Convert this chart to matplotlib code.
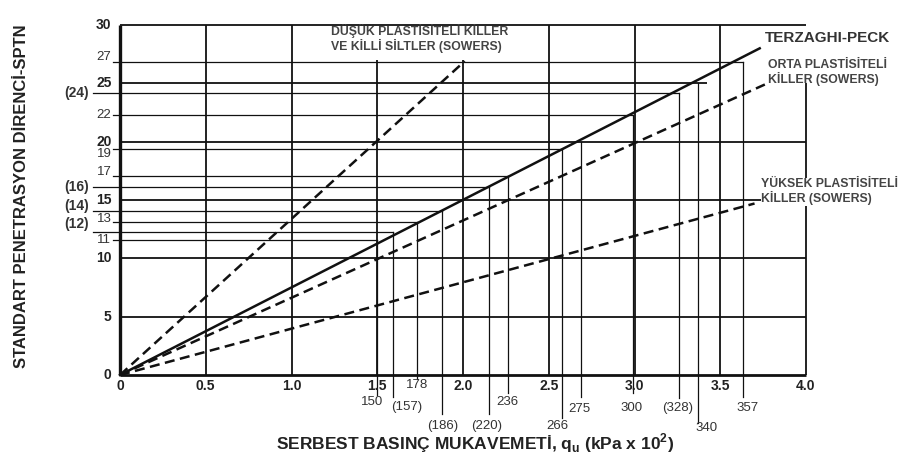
import matplotlib
matplotlib.use('Agg')
import matplotlib.pyplot as plt

plt.rcParams['font.family'] = ['Liberation Sans', 'DejaVu Sans']
plt.rcParams['mathtext.fontset'] = 'custom'
plt.rcParams['mathtext.rm'] = 'Liberation Sans:bold'
plt.rcParams['mathtext.bf'] = 'Liberation Sans:bold'

# ---------------- data ----------------
# correlation lines: qu (kPa x 10^2) vs SPT N
terzaghi_qu = [0.0, 3.73]
terzaghi_n = [0.0, 28.0]
low_qu = [0.0, 2.01]
low_n = [0.0, 26.9]
medium_qu = [0.0, 3.76]
medium_n = [0.0, 24.9]
high_qu = [0.0, 3.70]
high_n = [0.0, 14.7]

# major grid
major_x = [0.0, 0.5, 1.0, 1.5, 2.0, 2.5, 3.0, 3.5, 4.0]
major_x_labels = ['0', '0.5', '1.0', '1.5', '2.0', '2.5', '3.0', '3.5', '4.0']
major_x_top = [30, 30, 30, 27, 27, 30, 30, 30, 25]
major_y = [0, 5, 10, 15, 20, 25, 30]
major_y_labels = ['0', '5', '10', '15', '20', '25', '30']
major_y_right = [4.0, 4.0, 4.0, 4.0, 4.0, 3.42, 4.0]

# reading lines: vertical lines at qu values, horizontal lines at N values
read_qu = [1.50, 1.59, 1.73, 1.88, 2.15, 2.26, 2.58, 2.69, 2.99, 3.26, 3.37, 3.63]
read_qu_labels = ['150', '(157)', '178', '(186)', '(220)', '236', '266', '275',
                  '300', '(328)', '340', '357']
read_qu_top = [11.6, 12.3, 13.1, 14.1, 16.1, 17.05, 19.4, 20.0, 22.3, 24.2, 25.0, 26.85]
read_n = [11.6, 12.3, 13.1, 14.1, 16.1, 17.05, 19.4, 22.3, 24.2, 26.85]
read_n_labels = ['11', '(12)', '13', '(14)', '(16)', '17', '19', '22', '(24)', '27']
read_n_right = [1.50, 1.59, 1.73, 1.88, 2.15, 2.26, 2.58, 2.99, 3.26, 3.63]

# ---------------- layout (label placement) ----------------
qu_tick_bottom = [-1.7, -1.9, -0.3, -3.3, -3.3, -1.5, -3.7, -1.9, -1.5, -2.0, -4.1, -1.9]
qu_label_y = [-2.3, -2.75, -0.9, -4.4, -4.4, -2.3, -4.4, -2.9, -2.85, -2.85, -4.55, -2.85]
qu_label_dx = [-0.03, 0.08, 0.0, 0.0, -0.01, 0.0, -0.03, -0.01, -0.01, -0.01, 0.05, 0.03]
n_paren_left = -0.16
n_label_dy = [0.0, 0.65, 0.25, 0.4, 0.0, 0.35, -0.45, 0.0, 0.0, 0.45]

fig = plt.figure(figsize=(9.02, 4.66), dpi=100)
ax = fig.add_axes([120 / 902, 1 - 375 / 466, 686 / 902, 350 / 466])
ax.set_xlim(0, 4)
ax.set_ylim(0, 30)
ax.axis('off')

K = '#111111'
# major vertical grid lines
for x, top in zip(major_x, major_x_top):
    lw = 2.4 if x == 0 else 1.3
    ax.plot([x, x], [0, top], color=K, lw=lw, clip_on=False, solid_capstyle='butt')
# major horizontal grid lines
for y, right in zip(major_y, major_y_right):
    lw = 2.0 if y == 0 else 1.3
    ax.plot([0, right], [y, y], color=K, lw=lw, clip_on=False, solid_capstyle='butt')

# reading lines
for x, top, bot in zip(read_qu, read_qu_top, qu_tick_bottom):
    ax.plot([x, x], [bot, top], color=K, lw=0.9, clip_on=False)
for y, right, lab in zip(read_n, read_n_right, read_n_labels):
    left = n_paren_left if lab.startswith('(') else -0.04
    ax.plot([left, right], [y, y], color=K, lw=0.9, clip_on=False)

# correlation lines
ax.plot(terzaghi_qu, terzaghi_n, color=K, lw=1.8, clip_on=False)
ax.plot(low_qu, low_n, color=K, lw=1.8, dashes=(4, 2.2), clip_on=False)
ax.plot(medium_qu, medium_n, color=K, lw=1.8, dashes=(4, 2.2), clip_on=False)
ax.plot(high_qu, high_n, color=K, lw=1.8, dashes=(4, 2.2), clip_on=False)

# x tick labels
for x, lab in zip(major_x, major_x_labels):
    ax.text(x, -0.9, lab, ha='center', va='center', fontsize=10,
            fontweight='bold', color='#222222')
for x, lab, ly, dx in zip(read_qu, read_qu_labels, qu_label_y, qu_label_dx):
    ax.text(x + dx, ly, lab, ha='center', va='center', fontsize=9.5,
            color='#333333')

# y tick labels
for y, lab in zip(major_y, major_y_labels):
    ax.text(-0.05, y, lab, ha='right', va='center', fontsize=10,
            fontweight='bold', color='#222222')
for y, lab, dy in zip(read_n, read_n_labels, n_label_dy):
    if lab.startswith('('):
        ax.text(n_paren_left - 0.02, y + dy, lab, ha='right', va='center',
                fontsize=10, fontweight='bold', color='#333333')
    else:
        ax.text(-0.05, y + dy, lab, ha='right', va='center', fontsize=9.5,
                color='#333333')

# curve captions
cap = dict(fontsize=8.8, fontweight='bold', color='#444444', linespacing=1.1)
ax.text(1.23, 28.85, 'DÜŞÜK PLASTİSİTELİ KİLLER\nVE KİLLİ SİLTLER (SOWERS)',
        ha='left', va='center', **cap)
ax.text(3.76, 28.9, 'TERZAGHI-PECK', ha='left', va='center', fontsize=11,
        fontweight='bold', color='#333333')
ax.text(3.78, 25.9, 'ORTA PLASTİSİTELİ\nKİLLER (SOWERS)', ha='left',
        va='center', **cap)
ax.text(3.74, 15.7, 'YÜKSEK PLASTİSİTELİ\nKİLLER (SOWERS)', ha='left',
        va='center', bbox=dict(facecolor='white', edgecolor='none', pad=0.5), **cap)

# axis titles
fig.text(475 / 902, 1 - 443 / 466,
         'SERBEST BASINÇ MUKAVEMETİ, q$_\\mathregular{u}$ (kPa x 10$^\\mathregular{2}$)',
         ha='center', va='center', fontsize=12.5, fontweight='bold', color='#222222')
fig.text(22 / 902, 1 - 196 / 466, 'STANDART PENETRASYON DİRENCİ-SPTN',
         ha='center', va='center', rotation=90, fontsize=12, fontweight='bold',
         color='#222222')

fig.savefig('out.png', dpi=100, facecolor='white')
